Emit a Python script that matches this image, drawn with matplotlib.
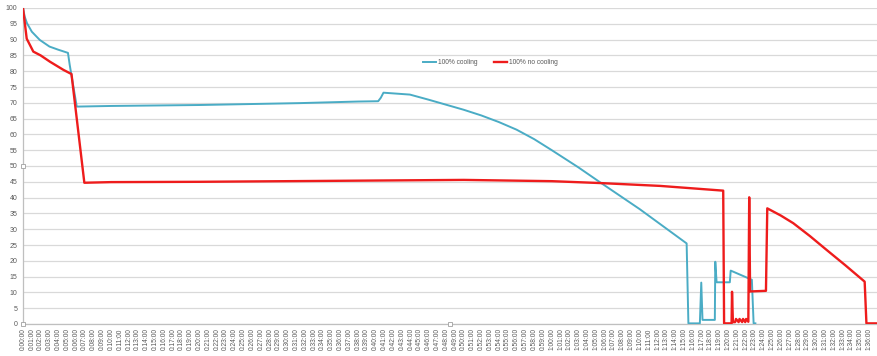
import matplotlib
matplotlib.use("Agg")
import matplotlib.pyplot as plt

# -------------------- Data (time in minutes, charge in %) --------------------
cool_t = [0, 0.2, 0.45, 1.0, 1.9, 3.0, 4.0, 5.1, 5.3, 6.1, 10, 20, 31.4, 38.0, 40.3, 40.6, 40.9,
          43.9, 46.0, 48.5, 50.0, 52.0, 54.0, 56.0, 58.0, 60.0, 62.0, 63.0, 65.5, 70.0, 75.3,
          75.5, 76.8, 76.96, 77.1, 78.5, 78.55, 78.7, 80.2, 80.3, 82.7, 82.9, 83.1]
cool_v = [100, 97.2, 95.2, 92.5, 89.9, 87.8, 86.8, 85.8, 82.0, 68.8, 69.0, 69.3, 69.9, 70.4,
          70.5, 71.6, 73.2, 72.6, 71.0, 69.0, 67.8, 66.0, 63.9, 61.5, 58.5, 55.0, 51.4, 49.6,
          44.8, 36.3, 25.5, 0.2, 0.2, 13.1, 1.3, 1.3, 19.7, 13.2, 13.2, 16.9, 14.0, 0.2, 0.2]

nocool_t = [0, 0.42, 1.17, 2.0, 3.06, 4.6, 5.5, 6.96, 10, 20, 30, 45, 50, 55, 60, 65.5,
            72.3, 79.45, 79.55, 80.4, 80.45, 80.55, 80.8, 80.9, 81.2, 81.3, 81.6, 81.7,
            81.95, 82.05, 82.3, 82.4, 82.5, 84.3, 84.45, 86.0, 87.4, 89.3, 91.2, 93.3, 95.5,
            95.7, 96.9]
nocool_v = [100, 90.3, 86.2, 85.0, 83.0, 80.4, 79.1, 44.7, 44.9, 45.0, 45.2, 45.5, 45.6, 45.4,
            45.2, 44.6, 43.7, 42.2, 0.2, 0.2, 10.2, 0.6, 0.6, 1.6, 0.6, 1.6, 0.6, 1.6,
            0.6, 1.6, 0.7, 40.1, 10.3, 10.5, 36.6, 34.3, 31.9, 27.8, 23.4, 18.6, 13.4, 0.2, 0.2]

series_names = ["100% cooling", "100% no cooling"]
x_labels = [f"{m // 60}:{m % 60:02d}:00" for m in range(0, 97)]
y_ticks = list(range(0, 101, 5))

# -------------------- Plot --------------------
plt.rcParams['font.family'] = ['Liberation Sans', 'DejaVu Sans']
fig = plt.figure(figsize=(8.77, 3.56), dpi=100)
ax = fig.add_axes([23 / 877, 1 - 324 / 356, 1 - 23 / 877, (324 - 8) / 356])

ax.plot(cool_t, cool_v, color='#4aacc5', lw=1.4, label=series_names[0], zorder=3)
ax.plot(nocool_t, nocool_v, color='#ee1c1c', lw=1.7, label=series_names[1], zorder=3)

ax.set_xlim(0, 96.9)
ax.set_ylim(0, 100)
ax.set_yticks(y_ticks)
ax.set_yticklabels([str(v) for v in y_ticks], fontsize=5, color='#595959')
ax.set_xticks(range(0, 97))
ax.set_xticklabels(x_labels, rotation=90, fontsize=4.8, color='#595959')
ax.tick_params(axis='both', length=0, pad=4)
ax.tick_params(axis='x', pad=3)

ax.grid(axis='y', color='#d9d9d9', lw=0.9, zorder=0)
for side in ['top', 'right']:
    ax.spines[side].set_visible(False)
ax.spines['left'].set_color('#bfbfbf')
ax.spines['bottom'].set_color('#bfbfbf')
ax.spines['left'].set_linewidth(0.9)
ax.spines['bottom'].set_linewidth(0.9)

leg = ax.legend(loc='center', bbox_to_anchor=(0.547, 0.826), ncol=2, frameon=False,
                fontsize=4.8, handlelength=2.0, handletextpad=0.2, columnspacing=2.5)
for t in leg.get_texts():
    t.set_color('#595959')

# selection handles of the plot area
for hx, hy in [(0, 0), (0, 0.5), (0.5, 0)]:
    ax.plot(hx, hy, marker='s', ms=3, mfc='white', mec='#a0a0a0', mew=0.6,
            transform=ax.transAxes, clip_on=False, zorder=5)

fig.savefig("out.png", dpi=100)
